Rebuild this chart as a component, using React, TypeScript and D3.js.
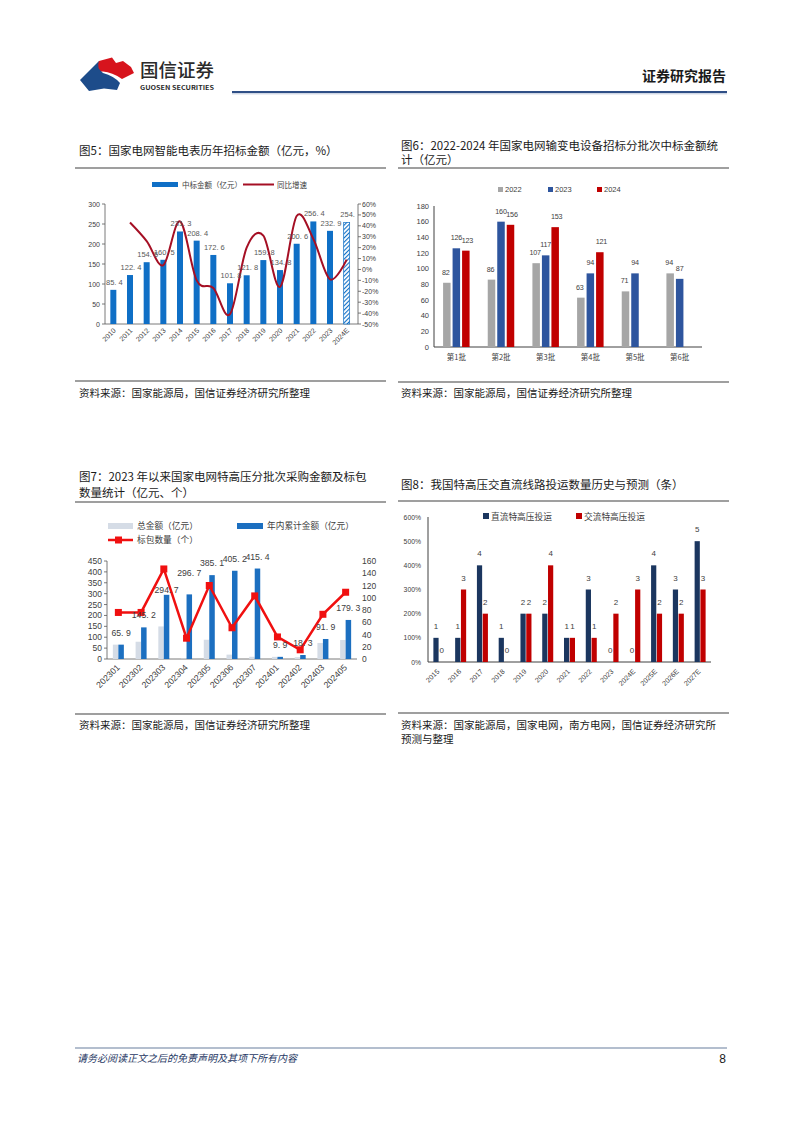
import React from 'react';
import * as d3 from 'd3';

const CJK = '"Noto Sans CJK SC", "Noto Sans", sans-serif';
const NUM = '"Liberation Sans", Arial, sans-serif';

// ---------- Chart 5 data ----------
const years5 = ['2010', '2011', '2012', '2013', '2014', '2015', '2016', '2017', '2018', '2019', '2020', '2021', '2022', '2023', '2024E'];
const amount5 = [85.4, 122.4, 154.5, 160.5, 231.3, 208.4, 172.6, 101.8, 121.8, 159.8, 134.8, 200.6, 256.4, 232.9, 254.1];
const amountLabels5 = ['85. 4', '122. 4', '154. 5', '160. 5', '231. 3', '208. 4', '172. 6', '101. 8', '121. 8', '159. 8', '134. 8', '200. 6', '256. 4', '232. 9', '254.'];
const growth5: (number | null)[] = [null, 43, 26, 4, 44, -10, -17, -41, 20, 31, -16, 49, 28, -9, 9];
const ticksL5 = [0, 50, 100, 150, 200, 250, 300];
const ticksR5 = [-50, -40, -30, -20, -10, 0, 10, 20, 30, 40, 50, 60];

// ---------- Chart 6 data ----------
const batches6 = ['第1批', '第2批', '第3批', '第4批', '第5批', '第6批'];
const series6 = ['2022', '2023', '2024'];
const v2022 = [82, 86, 107, 63, 71, 94];
const v2023 = [126, 160, 117, 94, 94, 87];
const v2024: (number | null)[] = [123, 156, 153, 121, null, null];
const ticks6 = [0, 20, 40, 60, 80, 100, 120, 140, 160, 180];

// ---------- Chart 7 data ----------
const periods7 = ['202301', '202302', '202303', '202304', '202305', '202306', '202307', '202401', '202402', '202403', '202405'];
const total7 = [65.9, 79.3, 149.5, 2.0, 88.4, 20.1, 10.2, 9.9, 8.4, 73.6, 87.4];
const cumulative7 = [65.9, 145.2, 294.7, 296.7, 385.1, 405.2, 415.4, 9.9, 18.3, 91.9, 179.3];
const cumLabels7 = ['65. 9', '145. 2', '294. 7', '296. 7', '385. 1', '405. 2', '415. 4', '9. 9', '18. 3', '91. 9', '179. 3'];
const packages7 = [76, 76, 147, 34, 120, 51, 103, 36, 15, 73, 109];
const ticksL7 = [0, 50, 100, 150, 200, 250, 300, 350, 400, 450];
const ticksR7 = [0, 20, 40, 60, 80, 100, 120, 140, 160];
// label vertical offsets (styling, as placed in the reference)
const labelDy7 = [-9, -9, -2, -18, -9, -9, -9, -9, -9, -9, -9];

// ---------- Chart 8 data ----------
const years8 = ['2015', '2016', '2017', '2018', '2019', '2020', '2021', '2022', '2023', '2024E', '2025E', '2026E', '2027E'];
const dc8 = [1, 1, 4, 1, 2, 2, 1, 3, 0, 0, 4, 3, 5];
const ac8 = [0, 3, 2, 0, 2, 4, 1, 1, 2, 3, 2, 2, 3];
const ticks8 = [0, 100, 200, 300, 400, 500, 600];

const TXT = '#404040';

function Chart5() {
  const x = d3.scaleBand<string>().domain(years5).range([105, 355]).paddingInner(0.64).paddingOuter(0.32);
  const yL = d3.scaleLinear().domain([0, 300]).range([324, 204]);
  const yR = d3.scaleLinear().domain([-50, 60]).range([324, 204]);
  const cx = (k: string) => (x(k) as number) + x.bandwidth() / 2;
  const pts = years5.map((k, i) => [cx(k), growth5[i]] as [number, number | null]).filter(p => p[1] !== null) as [number, number][];
  const line = d3.line<[number, number]>().x(d => d[0]).y(d => yR(d[1])).curve(d3.curveCardinal.tension(0));
  const blue = '#0F6FC6';
  return (
    <g>
      <defs>
        <pattern id="hatch5" patternUnits="userSpaceOnUse" width="3" height="3" patternTransform="rotate(45)">
          <rect width="3" height="3" fill="#fff" />
          <line x1="0" y1="0" x2="0" y2="3" stroke={blue} strokeWidth="2.2" />
        </pattern>
      </defs>
      <text x={79} y={155} fontFamily={CJK} fontSize={11.5} fill="#1a1a1a">图5：国家电网智能电表历年招标金额（亿元，%）</text>
      <line x1={75} x2={386} y1={168} y2={168} stroke="#7f7f7f" strokeWidth={1.5} />
      {/* legend */}
      <rect x={152} y={182} width={26} height={5} fill={blue} />
      <text x={182} y={187.5} fontFamily={CJK} fontSize={7.5} fill={TXT}>中标金额（亿元）</text>
      <line x1={243} x2={274} y1={184.5} y2={184.5} stroke="#A50F24" strokeWidth={2} />
      <text x={277} y={187.5} fontFamily={CJK} fontSize={7.5} fill={TXT}>同比增速</text>
      {/* axes */}
      <line x1={105} x2={105} y1={204} y2={324} stroke="#595959" strokeWidth={0.8} />
      {ticksL5.map(t => (
        <g key={t}>
          <line x1={102} x2={105} y1={yL(t)} y2={yL(t)} stroke="#595959" strokeWidth={0.8} />
          <text x={100} y={yL(t) + 2.5} textAnchor="end" fontFamily={NUM} fontSize={7} fill={TXT}>{t}</text>
        </g>
      ))}
      <line x1={358} x2={358} y1={204} y2={324} stroke="#595959" strokeWidth={0.8} />
      {ticksR5.map(t => (
        <g key={t}>
          <line x1={358} x2={361} y1={yR(t)} y2={yR(t)} stroke="#595959" strokeWidth={0.8} />
          <text x={362} y={yR(t) + 2.5} fontFamily={NUM} fontSize={7} fill={TXT}>{t}%</text>
        </g>
      ))}
      <line x1={105} x2={358} y1={324} y2={324} stroke="#595959" strokeWidth={0.8} />
      {/* bars */}
      {years5.map((k, i) => (
        <rect key={k} x={x(k)} y={yL(amount5[i])} width={x.bandwidth()} height={324 - yL(amount5[i])}
          fill={k.endsWith('E') ? 'url(#hatch5)' : blue} stroke={k.endsWith('E') ? blue : 'none'} strokeWidth={0.7} />
      ))}
      {/* line */}
      <path d={line(pts) || ''} fill="none" stroke="#A50F24" strokeWidth={2} />
      {/* labels */}
      {years5.map((k, i) => (
        <text key={k} x={cx(k) + 1} y={yL(amount5[i]) - 5} textAnchor="middle" fontFamily={NUM} fontSize={7.5} fill="#595959">{amountLabels5[i]}</text>
      ))}
      {years5.map(k => (
        <text key={k} transform={`translate(${cx(k) + 3},${331}) rotate(-45)`} textAnchor="end" fontFamily={NUM} fontSize={7} fill={TXT}>{k}</text>
      ))}
      <line x1={75} x2={386} y1={381} y2={381} stroke="#7f7f7f" strokeWidth={1.5} />
      <text x={79} y={397} fontFamily={CJK} fontSize={10.5} fill="#1a1a1a">资料来源：国家能源局，国信证券经济研究所整理</text>
    </g>
  );
}

function Chart6() {
  const x = d3.scaleBand<string>().domain(batches6).range([434, 702]);
  const inner = d3.scaleBand<string>().domain(series6).range([-14.25, 14.25]).paddingInner(0.21).paddingOuter(0.105);
  const y = d3.scaleLinear().domain([0, 180]).range([347, 206]);
  const colors = ['#A6A6A6', '#2E559E', '#C00000'];
  const data = [v2022, v2023, v2024];
  const cx = (k: string) => (x(k) as number) + x.bandwidth() / 2;
  return (
    <g>
      <text x={401} y={150} fontFamily={CJK} fontSize={11.5} fill="#1a1a1a">图6：2022-2024 年国家电网输变电设备招标分批次中标金额统</text>
      <text x={401} y={164} fontFamily={CJK} fontSize={11.5} fill="#1a1a1a">计（亿元）</text>
      <line x1={398} x2={729} y1={168} y2={168} stroke="#7f7f7f" strokeWidth={1.5} />
      {series6.map((s, i) => (
        <g key={s}>
          <rect x={[498, 548, 597][i]} y={187} width={5} height={5} fill={colors[i]} />
          <text x={[505, 555, 604][i]} y={192} fontFamily={NUM} fontSize={7.5} fill={TXT}>{s}</text>
        </g>
      ))}
      <line x1={434} x2={434} y1={206} y2={347} stroke="#404040" strokeWidth={1} />
      {ticks6.map(t => (
        <text key={t} x={429} y={y(t) + 2.8} textAnchor="end" fontFamily={NUM} fontSize={7.5} fill={TXT}>{t}</text>
      ))}
      <line x1={434} x2={702} y1={347} y2={347} stroke="#404040" strokeWidth={1} />
      {batches6.map((b, gi) => (
        <g key={b}>
          {series6.map((s, si) => {
            const v = data[si][gi];
            if (v === null || v === undefined) return null;
            const bx = cx(b) + (inner(s) as number);
            return (
              <g key={s}>
                <rect x={bx} y={y(v)} width={inner.bandwidth()} height={347 - y(v)} fill={colors[si]} />
                <text x={bx + inner.bandwidth() / 2 + (si === 2 ? 1.5 : si === 0 ? -1 : 0)} y={y(v) - 8} textAnchor="middle" fontFamily={NUM} fontSize={7.2} letterSpacing={-0.2} fill={TXT}>{v}</text>
              </g>
            );
          })}
          <text x={cx(b)} y={360} textAnchor="middle" fontFamily={CJK} fontSize={7.5} fill={TXT}>{b}</text>
        </g>
      ))}
      <line x1={398} x2={729} y1={382} y2={382} stroke="#7f7f7f" strokeWidth={1.5} />
      <text x={401} y={397} fontFamily={CJK} fontSize={10.5} fill="#1a1a1a">资料来源：国家能源局，国信证券经济研究所整理</text>
    </g>
  );
}

function Chart7() {
  const x = d3.scaleBand<string>().domain(periods7).range([107, 357]);
  const inner = d3.scaleBand<string>().domain(['total', 'cum']).range([-5.5, 5.5]);
  const yL = d3.scaleLinear().domain([0, 450]).range([659, 561]);
  const yR = d3.scaleLinear().domain([0, 160]).range([659, 561]);
  const cx = (k: string) => (x(k) as number) + x.bandwidth() / 2;
  const line = d3.line<number>().x((_, i) => cx(periods7[i])).y(d => yR(d));
  const light = '#D5DCE6';
  const blue = '#1C6FC0';
  const red = '#F01010';
  return (
    <g>
      <text x={79} y={481} fontFamily={CJK} fontSize={11.5} fill="#1a1a1a">图7：2023 年以来国家电网特高压分批次采购金额及标包</text>
      <text x={79} y={497} fontFamily={CJK} fontSize={11.5} fill="#1a1a1a">数量统计（亿元、个）</text>
      <line x1={75} x2={386} y1={502} y2={502} stroke="#7f7f7f" strokeWidth={1.5} />
      {/* legend */}
      <rect x={108} y={523} width={25} height={6} fill={light} />
      <text x={137} y={529} fontFamily={CJK} fontSize={8.7} fill={TXT}>总金额（亿元）</text>
      <rect x={237} y={523} width={26} height={6} fill={blue} />
      <text x={267} y={529} fontFamily={CJK} fontSize={8.7} fill={TXT}>年内累计金额（亿元）</text>
      <line x1={108} x2={133} y1={540} y2={540} stroke={red} strokeWidth={2.5} />
      <rect x={115} y={536.5} width={7} height={7} fill={red} />
      <text x={137} y={543} fontFamily={CJK} fontSize={8.7} fill={TXT}>标包数量（个）</text>
      {/* axes */}
      <line x1={107} x2={107} y1={561} y2={659} stroke="#595959" strokeWidth={0.8} />
      {ticksL7.map(t => (
        <g key={t}>
          <line x1={104} x2={107} y1={yL(t)} y2={yL(t)} stroke="#595959" strokeWidth={0.8} />
          <text x={102} y={yL(t) + 3} textAnchor="end" fontFamily={NUM} fontSize={8.5} fill={TXT}>{t}</text>
        </g>
      ))}
      {ticksR7.map(t => (
        <text key={t} x={362} y={yR(t) + 3} fontFamily={NUM} fontSize={8.5} fill={TXT}>{t}</text>
      ))}
      <line x1={107} x2={357} y1={659} y2={659} stroke="#595959" strokeWidth={0.8} />
      {periods7.map((p, i) => (
        <g key={p}>
          <rect x={cx(p) + (inner('total') as number)} y={yL(total7[i])} width={inner.bandwidth()} height={659 - yL(total7[i])} fill={light} />
          <rect x={cx(p) + (inner('cum') as number)} y={yL(cumulative7[i])} width={inner.bandwidth()} height={659 - yL(cumulative7[i])} fill={blue} />
        </g>
      ))}
      <path d={line(packages7) || ''} fill="none" stroke={red} strokeWidth={2.5} />
      {periods7.map((p, i) => (
        <rect key={p} x={cx(p) - 3.5} y={yR(packages7[i]) - 3.5} width={7} height={7} fill={red} />
      ))}
      {periods7.map((p, i) => (
        <text key={p} x={cx(p) + (inner('cum') as number) + inner.bandwidth() / 2} y={yL(cumulative7[i]) + labelDy7[i]} textAnchor="middle" fontFamily={NUM} fontSize={8.7} fill={TXT}>{cumLabels7[i]}</text>
      ))}
      {periods7.map(p => (
        <text key={p} transform={`translate(${cx(p) + 2},${668}) rotate(-45)`} textAnchor="end" fontFamily={NUM} fontSize={8.7} fill={TXT}>{p}</text>
      ))}
      <line x1={75} x2={386} y1={714} y2={714} stroke="#7f7f7f" strokeWidth={1.5} />
      <text x={79} y={729} fontFamily={CJK} fontSize={10.5} fill="#1a1a1a">资料来源：国家能源局，国信证券经济研究所整理</text>
    </g>
  );
}

function Chart8() {
  const x = d3.scaleBand<string>().domain(years8).range([428, 711]);
  const inner = d3.scaleBand<string>().domain(['dc', 'ac']).range([-5.5, 5.5]).paddingInner(0.1);
  const y = d3.scaleLinear().domain([0, 600]).range([662, 517]);
  const cx = (k: string) => (x(k) as number) + x.bandwidth() / 2;
  const navy = '#1B365F';
  const red = '#C00000';
  const series = [{ key: 'dc', vals: dc8, color: navy }, { key: 'ac', vals: ac8, color: red }];
  return (
    <g>
      <text x={401} y={489} fontFamily={CJK} fontSize={11.5} fill="#1a1a1a">图8：我国特高压交直流线路投运数量历史与预测（条）</text>
      <line x1={398} x2={729} y1={501} y2={501} stroke="#7f7f7f" strokeWidth={1.5} />
      <rect x={483} y={513} width={6} height={6} fill={navy} />
      <text x={491} y={519.5} fontFamily={CJK} fontSize={8.7} fill={TXT}>直流特高压投运</text>
      <rect x={576} y={513} width={6} height={6} fill={red} />
      <text x={584} y={519.5} fontFamily={CJK} fontSize={8.7} fill={TXT}>交流特高压投运</text>
      <line x1={428} x2={428} y1={517} y2={662} stroke="#404040" strokeWidth={1} />
      {ticks8.map(t => (
        <text key={t} x={421} y={y(t) + 2.5} textAnchor="end" fontFamily={NUM} fontSize={6.8} fill={TXT}>{t}%</text>
      ))}
      <line x1={428} x2={711} y1={662} y2={662} stroke="#404040" strokeWidth={1} />
      {years8.map((k, i) => (
        <g key={k}>
          {series.map(s => {
            const v = s.vals[i] * 100;
            const bx = cx(k) + (inner(s.key) as number);
            return (
              <g key={s.key}>
                {v > 0 && <rect x={bx} y={y(v)} width={inner.bandwidth()} height={662 - y(v)} fill={s.color} />}
                <text x={bx + inner.bandwidth() / 2} y={y(v) - 9} textAnchor="middle" fontFamily={NUM} fontSize={8} fill={TXT}>{s.vals[i]}</text>
              </g>
            );
          })}
          <text transform={`translate(${cx(k) + 1},${672}) rotate(-45)`} textAnchor="end" fontFamily={NUM} fontSize={7} fill={TXT}>{k}</text>
        </g>
      ))}
      <line x1={398} x2={729} y1={713} y2={713} stroke="#7f7f7f" strokeWidth={1.5} />
      <text x={401} y={729} fontFamily={CJK} fontSize={10.5} fill="#1a1a1a">资料来源：国家能源局，国家电网，南方电网，国信证券经济研究所</text>
      <text x={401} y={743} fontFamily={CJK} fontSize={10.5} fill="#1a1a1a">预测与整理</text>
    </g>
  );
}

function Header() {
  return (
    <g>
      <path d="M92,72 L99,61 L112,57.5 L116,63 L123,61 L131,67 L134,73 L122,79 Q112,72 103,71.5 Z" fill="#D7141D" />
      <path d="M80,80 L99,61 Q96,68 103,73 Q114,76 120,83 L117,90 L104,88.5 L89,91 Z" fill="#1D4C8A" />
      <text x={140} y={77} fontFamily={CJK} fontSize={18.5} fontWeight={500} fill="#2b2b2b">国信证券</text>
      <text x={140} y={89.5} fontFamily={CJK} fontSize={6.3} fontWeight={700} fill="#2b2b2b" textLength={74} lengthAdjust="spacingAndGlyphs">GUOSEN SECURITIES</text>
      <text x={726} y={81} textAnchor="end" fontFamily={CJK} fontSize={14} fontWeight={700} fill="#1a1a1a">证券研究报告</text>
      <line x1={232} x2={727} y1={92} y2={92} stroke="#2F4F86" strokeWidth={2} />
      <line x1={232} x2={727} y1={93.8} y2={93.8} stroke="#A9B8CF" strokeWidth={0.8} />
    </g>
  );
}

function Footer() {
  return (
    <g>
      <line x1={75} x2={727} y1={1048} y2={1048} stroke="#9AA9BE" strokeWidth={1.5} />
      <text x={77} y={1062} fontFamily={CJK} fontSize={10} fontStyle="italic" fill="#1F3864">请务必阅读正文之后的免责声明及其项下所有内容</text>
      <text x={726} y={1063} textAnchor="end" fontFamily={NUM} fontSize={12} fill="#1a1a1a">8</text>
    </g>
  );
}

export default function App() {
  return (
    <div style={{ position: 'absolute', left: 0, top: 0 }}>
      <svg width={802} height={1133} viewBox="0 0 802 1133" style={{ display: 'block', background: '#fff' }}>
        <rect width={802} height={1133} fill="#fff" />
        <Header />
        <Chart5 />
        <Chart6 />
        <Chart7 />
        <Chart8 />
        <Footer />
      </svg>
    </div>
  );
}
